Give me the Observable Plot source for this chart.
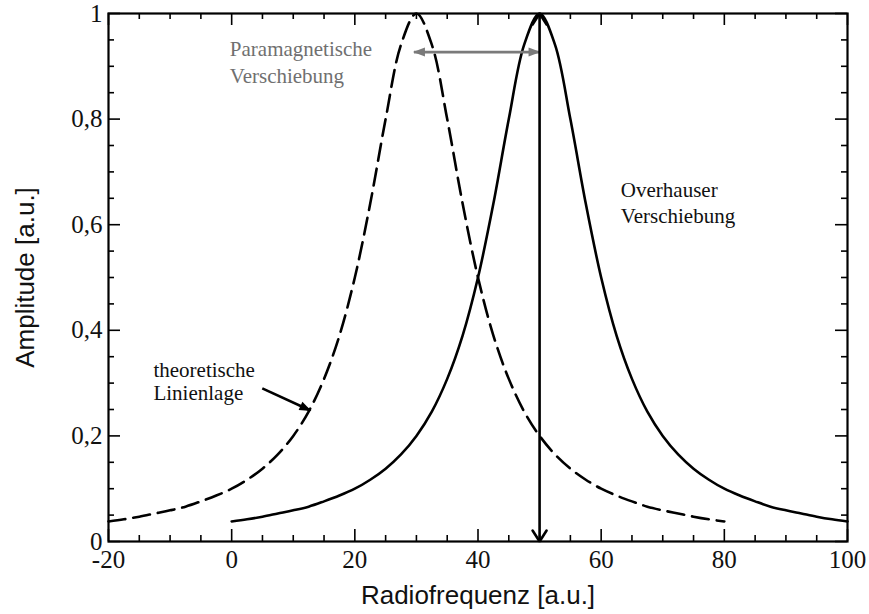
<!DOCTYPE html>
<html>
<head>
<meta charset="utf-8">
<script src="https://cdn.jsdelivr.net/npm/d3@7"></script>
<script src="https://cdn.jsdelivr.net/npm/@observablehq/plot@0.6"></script>
<style>
  html, body { margin: 0; padding: 0; background: #fff; }
  #chart svg { display: block; }
</style>
</head>
<body>
<div id="chart"></div>
<script>
// ---- data ----
// theoretical line position (dashed)
const theoryFreq = [-20, -17.5, -15, -12.5, -10, -7.5, -5, -2.5, 0, 2.5, 5, 7.5, 10, 12.5, 15, 17.5, 20, 22.5, 25, 27.5, 30,
                    32.5, 35, 37.5, 40, 42.5, 45, 47.5, 50, 52.5, 55, 57.5, 60, 62.5, 65, 67.5, 70, 72.5, 75, 77.5, 80];
const theoryAmp  = [0.038, 0.042, 0.047, 0.053, 0.059, 0.066, 0.076, 0.087, 0.100, 0.117, 0.138, 0.165, 0.200, 0.246, 0.308, 0.390, 0.500, 0.640, 0.800, 0.941, 1.000,
                    0.941, 0.800, 0.640, 0.500, 0.390, 0.308, 0.246, 0.200, 0.165, 0.138, 0.117, 0.100, 0.087, 0.076, 0.066, 0.059, 0.053, 0.047, 0.042, 0.038];
// shifted line (solid)
const shiftedFreq = [0, 2.5, 5, 7.5, 10, 12.5, 15, 17.5, 20, 22.5, 25, 27.5, 30, 32.5, 35, 37.5, 40, 42.5, 45, 47.5, 50,
                     52.5, 55, 57.5, 60, 62.5, 65, 67.5, 70, 72.5, 75, 77.5, 80, 82.5, 85, 87.5, 90, 92.5, 95, 97.5, 100];
const shiftedAmp  = [0.038, 0.042, 0.047, 0.053, 0.059, 0.066, 0.076, 0.087, 0.100, 0.117, 0.138, 0.165, 0.200, 0.246, 0.308, 0.390, 0.500, 0.640, 0.800, 0.941, 1.000,
                     0.941, 0.800, 0.640, 0.500, 0.390, 0.308, 0.246, 0.200, 0.165, 0.138, 0.117, 0.100, 0.087, 0.076, 0.066, 0.059, 0.053, 0.047, 0.042, 0.038];

// ticks
const xMajorTicks = [-20, 0, 20, 40, 60, 80, 100];
const xTickLabels = ["-20", "0", "20", "40", "60", "80", "100"];
const xMinorTicks = [-15, -10, -5, 5, 10, 15, 25, 30, 35, 45, 50, 55, 65, 70, 75, 85, 90, 95];
const yMajorTicks = [0, 0.2, 0.4, 0.6, 0.8, 1];
const yTickLabels = ["0", "0,2", "0,4", "0,6", "0,8", "1"];
const yMinorTicks = [0.05, 0.1, 0.15, 0.25, 0.3, 0.35, 0.45, 0.5, 0.55, 0.65, 0.7, 0.75, 0.85, 0.9, 0.95];

// axis titles
const xTitle = "Radiofrequenz [a.u.]";
const yTitle = "Amplitude [a.u.]";

// annotations (text lines with baseline positions in data units)
const grayNoteLines  = ["Paramagnetische", "Verschiebung"];
const grayNoteX      = [-0.3, -0.3];
const grayNoteY      = [0.920, 0.869];
const blackNoteLines = ["theoretische", "Linienlage", "Overhauser", "Verschiebung"];
const blackNoteX     = [-12.7, -12.7, 63.2, 63.2];
const blackNoteY     = [0.3125, 0.268, 0.653, 0.604];

// arrows
const paraArrow   = {x1: 29.6, x2: 50.0, y1: 0.927, y2: 0.927};
const overArrow   = {x1: 50, x2: 50, y1: 0, y2: 1};
const theoryArrow = {x1: 4.97, x2: 12.8, y1: 0.290, y2: 0.248};

// ---- layout ----
const W = 869, H = 614;
const mL = 108, mR = 22, mT = 13, mB = 73;
const innerW = W - mL - mR, innerH = H - mT - mB;
const majorLen = 12, minorLen = 6;
const serif = "'Liberation Serif', 'Times New Roman', serif";
const sans = "'Liberation Sans', Arial, sans-serif";

const theoryData = theoryFreq.map((f, i) => ({f, a: theoryAmp[i]}));
const shiftedData = shiftedFreq.map((f, i) => ({f, a: shiftedAmp[i]}));

const tickStyle = {stroke: "#000", strokeWidth: 1.6};

const svg = Plot.plot({
  width: W, height: H,
  marginLeft: mL, marginRight: mR, marginTop: mT, marginBottom: mB,
  x: {domain: [-20, 100], axis: null},
  y: {domain: [0, 1], axis: null},
  style: {background: "#fff", fontFamily: serif},
  marks: [
    // ticks (inside, mirrored)
    Plot.tickX(xMajorTicks, {x: d => d, insetTop: innerH - majorLen, ...tickStyle}),
    Plot.tickX(xMajorTicks, {x: d => d, insetBottom: innerH - majorLen, ...tickStyle}),
    Plot.tickX(xMinorTicks, {x: d => d, insetTop: innerH - minorLen, ...tickStyle}),
    Plot.tickX(xMinorTicks, {x: d => d, insetBottom: innerH - minorLen, ...tickStyle}),
    Plot.tickY(yMajorTicks, {y: d => d, insetRight: innerW - majorLen, ...tickStyle}),
    Plot.tickY(yMajorTicks, {y: d => d, insetLeft: innerW - majorLen, ...tickStyle}),
    Plot.tickY(yMinorTicks, {y: d => d, insetRight: innerW - minorLen, ...tickStyle}),
    Plot.tickY(yMinorTicks, {y: d => d, insetLeft: innerW - minorLen, ...tickStyle}),
    // curves
    Plot.line(theoryData, {x: "f", y: "a", curve: "catmull-rom", stroke: "#000", strokeWidth: 2.6, strokeDasharray: "17,8"}),
    Plot.line(shiftedData, {x: "f", y: "a", curve: "catmull-rom", stroke: "#000", strokeWidth: 2.6}),
    // arrows
    Plot.link([paraArrow], {x1: "x1", x2: "x2", y1: "y1", y2: "y2", stroke: "#7a7a7a", strokeWidth: 2.8,
      markerStart: "arrow", markerEnd: "arrow", ariaDescription: "para-arrow"}),
    Plot.link([overArrow], {x1: "x1", x2: "x2", y1: "y1", y2: "y2", stroke: "#000", strokeWidth: 2.6,
      markerStart: "arrow", markerEnd: "arrow", ariaDescription: "over-arrow"}),
    Plot.link([theoryArrow], {x1: "x1", x2: "x2", y1: "y1", y2: "y2", stroke: "#000", strokeWidth: 2.6,
      markerEnd: "arrow", ariaDescription: "theory-arrow"}),
    // frame
    Plot.frame({stroke: "#000", strokeWidth: 2.2}),
    // tick labels
    Plot.text(xMajorTicks, {x: d => d, text: (d, i) => xTickLabels[i], frameAnchor: "bottom", textAnchor: "middle", lineAnchor: "bottom",
      dy: 26, fontSize: 25, fontFamily: serif, fill: "#111"}),
    Plot.text(yMajorTicks, {y: d => d, text: (d, i) => yTickLabels[i], frameAnchor: "left", textAnchor: "end",
      lineAnchor: "middle", dx: -6, fontSize: 25, fontFamily: serif, fill: "#111"}),
    // axis titles
    Plot.text([xTitle], {text: d => d, frameAnchor: "bottom", textAnchor: "middle", lineAnchor: "bottom", dy: 62, fontSize: 26, fontFamily: sans, fill: "#111"}),
    Plot.text([yTitle], {text: d => d, frameAnchor: "left", textAnchor: "middle", lineAnchor: "bottom", rotate: -90, dx: -75, fontSize: 26, fontFamily: sans, fill: "#111"}),
    // annotations
    Plot.text(grayNoteLines, {x: (d, i) => grayNoteX[i], y: (d, i) => grayNoteY[i], text: d => d, textAnchor: "start",
      lineAnchor: "bottom", fontSize: 21, fontFamily: serif, fill: "#707070"}),
    Plot.text(blackNoteLines, {x: (d, i) => blackNoteX[i], y: (d, i) => blackNoteY[i], text: d => d, textAnchor: "start",
      lineAnchor: "bottom", fontSize: 21, fontFamily: serif, fill: "#111"})
  ]
});

// restyle arrow heads
const NS = "http://www.w3.org/2000/svg";
function restyleMarkers(desc, kind) {
  svg.querySelectorAll(`[aria-description="${desc}"] marker`).forEach(m => {
    const color = m.getAttribute("stroke") || "#000";
    m.setAttribute("markerUnits", "userSpaceOnUse");
    m.setAttribute("viewBox", "-16 -10 20 20");
    m.setAttribute("markerWidth", "20");
    m.setAttribute("markerHeight", "20");
    m.setAttribute("orient", "auto-start-reverse");
    while (m.firstChild) m.removeChild(m.firstChild);
    const p = document.createElementNS(NS, "path");
    if (kind === "filled") {
      p.setAttribute("d", "M-11,-4.5L1,0L-11,4.5Z");
      p.setAttribute("fill", color);
      p.setAttribute("stroke", "none");
    } else {
      p.setAttribute("d", "M-11,-7L0,0L-11,7");
      p.setAttribute("fill", "none");
      p.setAttribute("stroke", color);
      p.setAttribute("stroke-width", "2.6");
      p.setAttribute("stroke-linejoin", "miter");
    }
    m.setAttribute("fill", "none");
    m.setAttribute("stroke", "none");
    m.appendChild(p);
  });
}
restyleMarkers("para-arrow", "filled");
restyleMarkers("over-arrow", "chevron");
restyleMarkers("theory-arrow", "filled");

document.getElementById("chart").appendChild(svg);
</script>
</body>
</html>
